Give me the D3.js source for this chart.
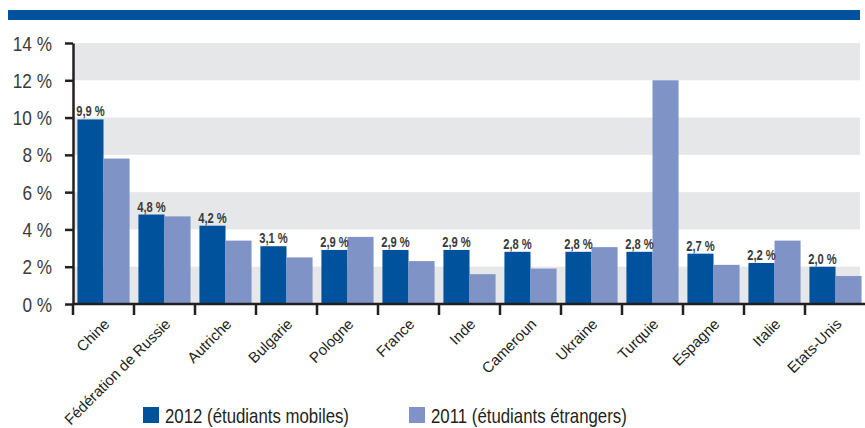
<!DOCTYPE html>
<html lang="fr">
<head>
<meta charset="utf-8">
<title>Étudiants mobiles</title>
<script src="https://d3js.org/d3.v7.min.js"></script>
<style>
  body { margin: 0; background: #fff; }
  text { font-family: "Liberation Sans", Arial, sans-serif; }
</style>
</head>
<body>
<script>
// données
var pays = ["Chine", "Fédération de Russie", "Autriche", "Bulgarie", "Pologne", "France",
  "Inde", "Cameroun", "Ukraine", "Turquie", "Espagne", "Italie", "Etats-Unis"];
var mobiles2012 = [9.9, 4.8, 4.2, 3.1, 2.9, 2.9, 2.9, 2.8, 2.8, 2.8, 2.7, 2.2, 2.0];
var etrangers2011 = [7.8, 4.7, 3.4, 2.5, 3.6, 2.3, 1.6, 1.9, 3.05, 12.0, 2.1, 3.4, 1.5];
var yTicks = [0, 2, 4, 6, 8, 10, 12, 14];
var series = ["2012 (étudiants mobiles)", "2011 (étudiants étrangers)"];
var colors = ["#00529c", "#8093c6"];

var W = 865, H = 428;
var svg = d3.select("body").append("svg")
    .attr("width", W).attr("height", H);

// bandeau bleu en haut
svg.append("rect")
    .attr("x", 8).attr("y", 10).attr("width", 852).attr("height", 10)
    .attr("fill", "#00529c");

var x0 = 73, y0 = 304;
var x = d3.scaleBand().domain(pays).range([x0, x0 + 61 * 13]).paddingInner(0).paddingOuter(0);
var xs = d3.scaleBand().domain([0, 1]).range([0, x.bandwidth()]).paddingOuter(0.17).paddingInner(0);
var y = d3.scaleLinear().domain([0, 14]).range([y0, 43]);

// bandes grises
svg.append("g").selectAll("rect")
  .data([0, 4, 8, 12])
  .join("rect")
    .attr("x", x0).attr("width", 860 - x0)
    .attr("y", d => y(d + 2)).attr("height", d => y(d) - y(d + 2))
    .attr("fill", "#e6e7e8");

// barres
var g = svg.append("g").selectAll("g")
  .data(pays)
  .join("g")
    .attr("transform", d => "translate(" + x(d) + ",0)");

g.append("rect")
    .attr("x", xs(0)).attr("width", xs.bandwidth())
    .attr("y", (d, i) => y(mobiles2012[i]))
    .attr("height", (d, i) => y0 - y(mobiles2012[i]))
    .attr("fill", colors[0]);

g.append("rect")
    .attr("x", xs(1)).attr("width", xs.bandwidth())
    .attr("y", (d, i) => y(etrangers2011[i]))
    .attr("height", (d, i) => y0 - y(etrangers2011[i]))
    .attr("fill", colors[1]);

// étiquettes de valeur
g.append("text")
    .attr("transform", (d, i) => "translate(" + (xs(0) + xs.bandwidth() / 2) + "," + (y(mobiles2012[i]) - 3) + ") scale(0.8,1)")
    .attr("text-anchor", "middle")
    .attr("font-size", 14)
    .attr("font-weight", "bold")
    .attr("fill", "#3a3a3a")
    .text((d, i) => d3.format(".1f")(mobiles2012[i]).replace(".", ",") + " %");

// axe Y
var yAxis = svg.append("g")
    .attr("transform", "translate(" + x0 + ",0)")
    .call(d3.axisLeft(y).tickValues(yTicks).tickSize(8).tickSizeOuter(0).tickPadding(13)
      .tickFormat(d => d + " %"));
yAxis.select(".domain").attr("stroke", "#231f20").attr("stroke-width", 2.5);
yAxis.selectAll(".tick line").attr("stroke", "#231f20").attr("stroke-width", 2.5);
yAxis.selectAll(".tick text")
    .attr("x", 0)
    .attr("transform", "translate(-21,0) scale(0.86,1)")
    .attr("font-size", 20)
    .attr("font-family", "Liberation Sans, Arial, sans-serif")
    .attr("fill", "#3a3a3a").attr("dy", "0.35em");

// axe X
var xAxis = svg.append("g")
    .attr("transform", "translate(0," + y0 + ")");
xAxis.append("line")
    .attr("x1", x0).attr("x2", W).attr("y1", 0).attr("y2", 0)
    .attr("stroke", "#231f20").attr("stroke-width", 2.5);
xAxis.selectAll("line.tk")
  .data(pays)
  .join("line")
    .attr("class", "tk")
    .attr("x1", d => x(d)).attr("x2", d => x(d))
    .attr("y1", 0).attr("y2", 11)
    .attr("stroke", "#231f20").attr("stroke-width", 2.5);
xAxis.selectAll("text")
  .data(pays)
  .join("text")
    .attr("transform", d => "translate(" + (x(d) + x.bandwidth() / 2 + 7) + ",21) rotate(-45)")
    .attr("text-anchor", "end")
    .attr("font-size", 15)
    .attr("fill", "#231f20")
    .text(d => d);

// légende
var leg = svg.append("g").selectAll("g")
  .data(series)
  .join("g")
    .attr("transform", (d, i) => "translate(" + [143, 409][i] + ",407)");
leg.append("rect")
    .attr("width", 16).attr("height", 16)
    .attr("fill", (d, i) => colors[i]);
leg.append("text")
    .attr("transform", "translate(22,15.5) scale(0.82,1)")
    .attr("font-size", 20.5)
    .attr("fill", "#231f20")
    .text(d => d);
</script>
</body>
</html>
